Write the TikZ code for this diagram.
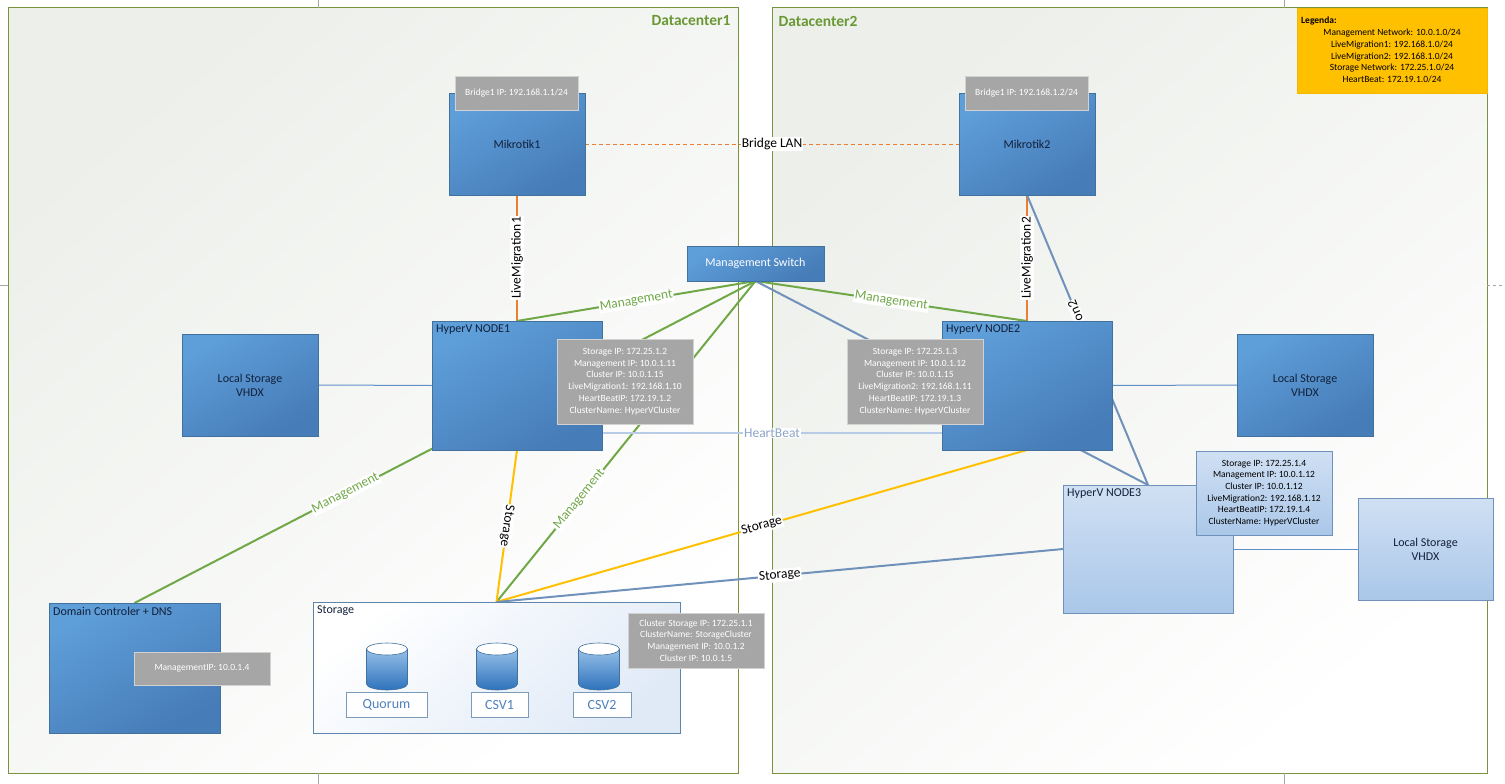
\documentclass[tikz,border=0pt]{standalone}
\usepackage{fontspec}
\setmainfont{Carlito}
\usetikzlibrary{positioning, shapes.geometric}
\usepackage{xcolor}

\definecolor{boxlight}{RGB}{94,158,217}
\definecolor{boxdark}{RGB}{70,124,184}
\definecolor{boxline}{RGB}{65,113,156}
\definecolor{navytext}{RGB}{18,32,58}
\definecolor{infogray}{RGB}{166,166,166}
\definecolor{infoline}{RGB}{210,210,210}
\definecolor{palelight}{RGB}{208,224,243}
\definecolor{paledark}{RGB}{170,199,233}
\definecolor{frameg}{RGB}{119,147,60}
\definecolor{dctext}{RGB}{106,152,52}
\definecolor{mgmtg}{RGB}{112,168,71}
\definecolor{lmorange}{RGB}{237,125,49}
\definecolor{styellow}{RGB}{255,192,0}
\definecolor{steel}{RGB}{112,146,186}
\definecolor{vhdxblue}{RGB}{96,142,198}
\definecolor{hbblue}{RGB}{184,204,232}
\definecolor{hbtext}{RGB}{140,165,200}
\definecolor{cylblue}{RGB}{46,114,188}
\definecolor{cyltop}{RGB}{150,192,232}
\definecolor{disktext}{RGB}{79,129,189}
\definecolor{bgshade}{RGB}{236,239,234}
\definecolor{storeshade}{RGB}{224,234,247}

\pgfdeclarelayer{framelayer}
\pgfdeclarelayer{wirelayer}
\pgfsetlayers{framelayer,wirelayer,main}

\tikzset{
  hostbox/.style={draw=boxline, line width=0.8pt, top color=boxlight, bottom color=boxdark,
    shading angle=30, inner sep=2pt, outer sep=0pt, align=center, text=navytext,
    font=\fontsize{12}{14}\selectfont},
  palebox/.style={hostbox, draw=steel, top color=palelight, bottom color=paledark, shading angle=0},
  infobox/.style={draw=infoline, line width=0.6pt, fill=infogray, text=white, align=center,
    inner sep=2pt, outer sep=0pt, font=\fontsize{9.5}{11.7}\selectfont},
  paleinfo/.style={infobox, draw=steel, top color=palelight, bottom color=paledark, text=black},
  titletext/.style={anchor=north west, inner sep=4pt, text=navytext, font=\fontsize{12}{14}\selectfont},
  storebox/.style={draw=boxline!85, line width=0.6pt, top color=white, bottom color=storeshade,
    shading angle=40, outer sep=0pt},
  diskbox/.style={draw=boxline!70, line width=0.6pt, fill=white, minimum height=25pt, outer sep=0pt,
    text=disktext, font=\fontsize{14}{16}\selectfont},
  legendbox/.style={fill=styellow, draw=styellow!80!black!20!styellow, outer sep=0pt},
  frameline/.style={draw=frameg, line width=1pt},
  pagemark/.style={draw=black!35, line width=0.6pt},
  mgmtline/.style={draw=mgmtg, line width=2pt},
  lmline/.style={draw=lmorange, line width=2pt},
  bridgeline/.style={draw=lmorange, line width=1pt, dash pattern=on 4pt off 3pt},
  storeline/.style={draw=styellow, line width=2pt},
  steelline/.style={draw=steel, line width=2pt},
  vhdxline/.style={draw=vhdxblue, line width=1pt},
  hbline/.style={draw=hbblue, line width=2pt},
  wirelabel/.style={fill=white, inner sep=1pt, font=\fontsize{13.5}{15}\selectfont},
  mgmtlabel/.style={wirelabel, text=mgmtg}
}

\begin{document}
\begin{tikzpicture}[x=1pt, y=-1pt]
\useasboundingbox (0,0) rectangle (1505,784);

% datacenters
\begin{pgfonlayer}{framelayer}
  \fill[white] (0,0) rectangle (1505,784);
  \shade[top color=bgshade, bottom color=white, shading angle=40] (8,8) rectangle (738,773);
  \shade[top color=bgshade, bottom color=white, shading angle=40] (772,8) rectangle (1487,773);
  \draw[frameline] (8,8) rectangle (738,773);
  \draw[frameline] (772,8) rectangle (1487,773);
  \draw[pagemark] (318,0) -- (318,8);
  \draw[pagemark] (1284,0) -- (1284,8);
  \draw[pagemark] (318,773) -- (318,784);
  \draw[pagemark] (1284,773) -- (1284,784);
  \draw[pagemark] (0,285) -- (8,285);
  \draw[pagemark, dashed] (1487,285) -- (1505,285);
\end{pgfonlayer}
\node[anchor=east, text=dctext, font=\fontsize{15.5}{17}\selectfont\bfseries] (dc1name) at (734,21) {Datacenter1};
\node[anchor=west, text=dctext, font=\fontsize{15.5}{17}\selectfont\bfseries] (dc2name) at (775,21) {Datacenter2};

% legend
\node[legendbox, minimum width=190pt, minimum height=85pt] (legend) at (1392,50.5) {};
\node[anchor=west, inner sep=0pt, font=\fontsize{9.5}{11}\selectfont\bfseries] (legendtitle) at (1301,21) {Legenda:};
\node[align=center, inner sep=0pt, font=\fontsize{9.5}{11.7}\selectfont] (legendtext) at (1392,56)
  {Management Network: 10.0.1.0/24\\LiveMigration1: 192.168.1.0/24\\LiveMigration2: 192.168.1.0/24\\Storage Network: 172.25.1.0/24\\HeartBeat: 172.19.1.0/24};

% routers and switch
\node[hostbox, minimum width=136pt, minimum height=102pt] (mk1) at (517,144) {Mikrotik1};
\node[hostbox, minimum width=136pt, minimum height=102pt] (mk2) at (1027,144) {Mikrotik2};
\node[infobox, minimum width=123pt, minimum height=34pt] (br1) at (516.5,93) {Bridge1 IP: 192.168.1.1/24};
\node[infobox, minimum width=123pt, minimum height=34pt] (br2) at (1026.5,93) {Bridge1 IP: 192.168.1.2/24};
\node[hostbox, text=white, minimum width=137pt, minimum height=35pt] (sw) at (755.5,263.5) {Management Switch};

% hyperv nodes
\node[hostbox, minimum width=170pt, minimum height=129pt, label={[titletext]north west:HyperV NODE1}] (n1) at (517,385.5) {};
\node[hostbox, minimum width=170pt, minimum height=129pt, label={[titletext]north west:HyperV NODE2}] (n2) at (1027,385.5) {};
\node[palebox, minimum width=170pt, minimum height=128pt, label={[titletext]north west:HyperV NODE3}] (n3) at (1148,549) {};
\node[infobox, minimum width=136pt, minimum height=85pt] (n1info) at (625,381.5)
  {Storage IP: 172.25.1.2\\Management IP: 10.0.1.11\\Cluster IP: 10.0.1.15\\LiveMigration1: 192.168.1.10\\HeartBeatIP: 172.19.1.2\\ClusterName: HyperVCluster};
\node[infobox, minimum width=136pt, minimum height=85pt] (n2info) at (915,381.5)
  {Storage IP: 172.25.1.3\\Management IP: 10.0.1.12\\Cluster IP: 10.0.1.15\\LiveMigration2: 192.168.1.11\\HeartBeatIP: 172.19.1.3\\ClusterName: HyperVCluster};
\node[paleinfo, minimum width=136pt, minimum height=84pt] (n3info) at (1264,493)
  {Storage IP: 172.25.1.4\\Management IP: 10.0.1.12\\Cluster IP: 10.0.1.12\\LiveMigration2: 192.168.1.12\\HeartBeatIP: 172.19.1.4\\ClusterName: HyperVCluster};

% local disks
\node[hostbox, minimum width=136pt, minimum height=102pt] (ls1) at (250,385) {Local Storage\\VHDX};
\node[hostbox, minimum width=136pt, minimum height=102pt] (ls2) at (1305,385) {Local Storage\\VHDX};
\node[palebox, minimum width=135pt, minimum height=102pt] (ls3) at (1425.5,549) {Local Storage\\VHDX};

% domain controller
\node[hostbox, minimum width=171pt, minimum height=130pt, label={[titletext]north west:Domain Controler + DNS}] (dc) at (134.5,668) {};
\node[infobox, minimum width=136pt, minimum height=33pt] (dcinfo) at (202,668.5) {ManagementIP: 10.0.1.4};

% shared storage
\node[storebox, minimum width=367pt, minimum height=131pt, label={[titletext]north west:Storage}] (st) at (496.5,667.5) {};
\shadedraw[top color=cyltop, bottom color=cylblue, draw=boxline, line width=0.6pt] (366.5,649) -- (366.5,684) arc[start angle=180, end angle=0, x radius=20.5, y radius=6] -- (407.5,649) -- cycle;
\draw[fill=white, draw=boxline, line width=0.6pt] (387,649) ellipse [x radius=20.5, y radius=6];
\shadedraw[top color=cyltop, bottom color=cylblue, draw=boxline, line width=0.6pt] (476.5,649) -- (476.5,684) arc[start angle=180, end angle=0, x radius=20.5, y radius=6] -- (517.5,649) -- cycle;
\draw[fill=white, draw=boxline, line width=0.6pt] (497,649) ellipse [x radius=20.5, y radius=6];
\shadedraw[top color=cyltop, bottom color=cylblue, draw=boxline, line width=0.6pt] (578.5,649) -- (578.5,684) arc[start angle=180, end angle=0, x radius=20.5, y radius=6] -- (619.5,649) -- cycle;
\draw[fill=white, draw=boxline, line width=0.6pt] (599,649) ellipse [x radius=20.5, y radius=6];
\node[diskbox, minimum width=81pt] (quorum) at (386.5,704.5) {Quorum};
\node[diskbox, minimum width=57pt] (csv1) at (499.5,704.5) {CSV1};
\node[diskbox, minimum width=58pt] (csv2) at (602,704.5) {CSV2};
\node[infobox, minimum width=136pt, minimum height=55pt] (stinfo) at (696,640.5)
  {Cluster Storage IP: 172.25.1.1\\ClusterName: StorageCluster\\Management IP: 10.0.1.2\\Cluster IP: 10.0.1.5};

% links
\begin{pgfonlayer}{wirelayer}
  \draw[bridgeline] (mk1.east) -- (mk2.west) node[wirelabel, midway] {Bridge LAN};
  \draw[lmline] (mk1.south) -- (n1.north) node[wirelabel, midway, rotate=90] {LiveMigration1};
  \draw[lmline] (mk2.south) -- (n2.north) node[wirelabel, midway, rotate=90] {LiveMigration2};
  \draw[steelline] (n3.north) -- (mk2.south) node[wirelabel, pos=0.64, anchor=east, sloped, allow upside down] {on2};
  \draw[mgmtline] (sw.south) -- (n1.north) node[mgmtlabel, midway, sloped] {Management};
  \draw[mgmtline] (sw.south) -- (n2.north) node[mgmtlabel, midway, sloped] {Management};
  \draw[mgmtline] (sw.south) -- (dc.north) node[mgmtlabel, pos=0.66, sloped] {Management};
  \draw[mgmtline] (sw.south) -- (st.north) node[mgmtlabel, pos=0.68, sloped] {Management};
  \draw[steelline] (sw.south) -- (n3.north);
  \draw[hbline] ([yshift=-47.5pt]n1.east) -- ([yshift=-47.5pt]n2.west) node[wirelabel, midway, text=hbtext] {HeartBeat};
  \draw[storeline] (n1.south) -- (st.north) node[wirelabel, midway, sloped, allow upside down] {Storage};
  \draw[storeline] (n2.south) -- (st.north) node[wirelabel, midway, sloped] {Storage};
  \draw[steelline] (n3.west) -- (st.north) node[wirelabel, midway, sloped] {Storage};
  \draw[vhdxline] (ls1.east) -- (n1.west);
  \draw[vhdxline] (n2.east) -- (ls2.west);
  \draw[vhdxline] (n3.east) -- (ls3.west);
\end{pgfonlayer}
\end{tikzpicture}
\end{document}
